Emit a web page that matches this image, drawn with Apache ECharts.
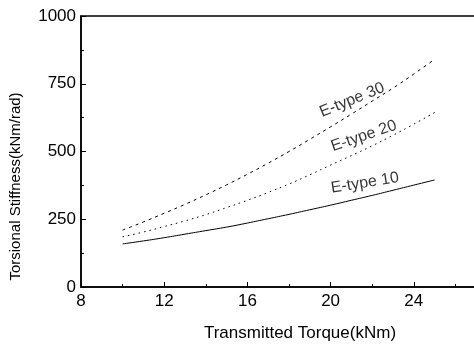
<!DOCTYPE html>
<html>
<head>
<meta charset="utf-8">
<script src="https://cdn.jsdelivr.net/npm/echarts@6/dist/echarts.min.js"></script>
<style>
  html, body { margin: 0; padding: 0; background: #fff; }
  #chart { width: 474px; height: 344px; }
</style>
</head>
<body>
<div id="chart"></div>
<script>
// transmitted torque (kNm)
const torque = [10, 11, 12, 13, 14, 15, 16, 17, 18, 19, 20, 21, 22, 23, 24, 25];
// torsional stiffness (kNm/rad)
const etype10 = [159, 170, 182, 195, 208, 221, 236, 252, 268, 285, 302, 320, 338, 357, 376, 395];
const etype20 = [185, 203, 223, 244, 267, 293, 320, 349, 380, 414, 450, 485, 521, 560, 601, 644];
const etype30 = [210, 240, 272, 305, 340, 377, 416, 457, 500, 545, 591, 638, 686, 734, 786, 840];

// curve labels: name, torque, stiffness, angle
const labelNames = ["E-type 30", "E-type 20", "E-type 10"];
const labelX = [21.03, 21.6, 21.65];
const labelY = [690, 557, 384];
const labelAngle = [22, 19, 9];

const font = "Liberation Sans, Arial, sans-serif";

const pairs = (ys) => torque.map((x, i) => [x, ys[i]]);

const lineSeries = (name, ys, dash) => ({
  type: "line",
  name: name,
  data: pairs(ys),
  smooth: true,
  symbol: "none",
  lineStyle: { color: "#000", width: 1, type: dash },
  silent: true
});

const chart = echarts.init(document.getElementById("chart"), null, { renderer: "canvas" });

chart.setOption({
  animation: false,
  backgroundColor: "#fff",
  grid: {
    left: 81,
    top: 16,
    width: 416,
    height: 271,
    outerBoundsMode: "none",
    containLabel: false,
    show: true,
    borderColor: "#000",
    borderWidth: 1.5
  },
  xAxis: {
    type: "value",
    min: 8,
    max: 28,
    interval: 4,
    name: "Transmitted Torque(kNm)",
    nameLocation: "middle",
    nameGap: 38,
    nameTextStyle: { color: "#000", fontFamily: font, fontSize: 17, padding: [0, 0, 0, 22] },
    axisLine: { lineStyle: { color: "#000", width: 1.5 } },
    axisTick: { inside: true, length: 5, lineStyle: { color: "#000" } },
    minorTick: { show: true, splitNumber: 2, length: 3, lineStyle: { color: "#000" } },
    axisLabel: { color: "#000", fontFamily: font, fontSize: 17, margin: 6 },
    splitLine: { show: false }
  },
  yAxis: {
    type: "value",
    min: 0,
    max: 1000,
    interval: 250,
    name: "Torsional Stiffness(kNm/rad)",
    nameLocation: "middle",
    nameGap: 58,
    nameTextStyle: { color: "#000", fontFamily: font, fontSize: 15, padding: [0, 70, 0, 0] },
    axisLine: { show: true, lineStyle: { color: "#000", width: 1.5 } },
    axisTick: { inside: true, length: 5, lineStyle: { color: "#000" } },
    minorTick: { show: true, splitNumber: 2, length: 3, lineStyle: { color: "#000" } },
    axisLabel: { color: "#000", fontFamily: font, fontSize: 17, margin: 5, formatter: (v) => String(v) },
    splitLine: { show: false }
  },
  series: [
    lineSeries("E-type 30", etype30, [3, 4]),
    lineSeries("E-type 20", etype20, [1.5, 4]),
    lineSeries("E-type 10", etype10, "solid"),
    {
      type: "scatter",
      silent: true,
      symbolSize: 0,
      data: labelNames.map((n, i) => ({
        value: [labelX[i], labelY[i]],
        label: { formatter: n, rotate: labelAngle[i] }
      })),
      label: {
        show: true,
        position: "inside",
        color: "#000",
        fontFamily: font,
        fontSize: 16
      }
    }
  ]
});
</script>
</body>
</html>
